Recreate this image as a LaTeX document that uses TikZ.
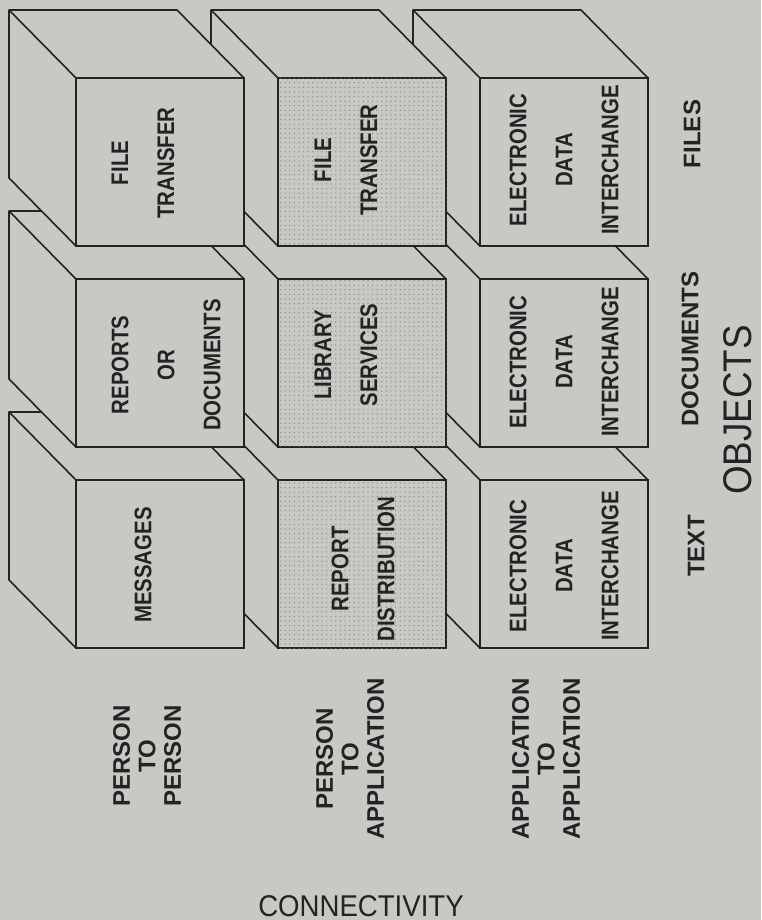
\documentclass[tikz,border=0pt]{standalone}
\usepackage{fontspec}
\setmainfont{Liberation Sans}
\newfontfamily\narrowsans[FakeStretch=0.85]{Liberation Sans}
\newfontfamily\titlesans[FakeStretch=0.92]{Liberation Sans}
\usetikzlibrary{patterns.meta}
\definecolor{paper}{RGB}{200,200,196}
\definecolor{ink}{RGB}{35,35,35}
\tikzset{
  plainface/.style={fill=paper},
  dotface/.style={fill=paper, postaction={pattern={Dots[distance=2.3pt, radius=0.3pt]}, pattern color=ink!60}},
  cubetext/.style={rotate=90, align=center, text=ink, font=\narrowsans\bfseries\fontsize{12}{23}\selectfont},
  rowlabel/.style={rotate=90, align=center, text=ink, font=\bfseries\fontsize{12}{12.75}\selectfont},
  collabel/.style={rotate=90, text=ink, font=\bfseries\fontsize{12}{14}\selectfont},
}
\begin{document}
\begin{tikzpicture}[x=0.5pt, y=-0.5pt, line width=0.8pt, draw=ink]
  \useasboundingbox[fill=paper] (0,0) rectangle (761,920); %
  % cubes, back ones first
  \foreach \r in {2,1,0} {
    \foreach \c/\look in {2/plainface,1/dotface,0/plainface} {
      \pgfmathsetmacro\fx{76+202*\c}
      \pgfmathsetmacro\fy{78+201*\r}
      \draw[fill=paper, line join=round] (\fx-67,\fy-68) -- (\fx+101,\fy-68) --
        (\fx+168,\fy) -- (\fx+168,\fy+168) -- (\fx,\fy+168) --
        (\fx-67,\fy+100) -- cycle; %
      \draw (\fx-67,\fy-68) -- (\fx,\fy); %
      \draw[\look] (\fx,\fy) rectangle (\fx+168,\fy+168); %
    }
  }
  % texts on the front faces
  \node[cubetext] (ftA) at (143,163) {FILE\\TRANSFER};
  \node[cubetext] (ftB) at (346,160) {FILE\\TRANSFER};
  \node[cubetext] (ediA) at (564,160) {ELECTRONIC\\DATA\\INTERCHANGE};
  \node[cubetext] (rod) at (166,365) {REPORTS\\OR\\DOCUMENTS};
  \node[cubetext] (lib) at (346,355) {LIBRARY\\SERVICES};
  \node[cubetext] (ediB) at (564,362) {ELECTRONIC\\DATA\\INTERCHANGE};
  \node[cubetext] (msg) at (143,565) {MESSAGES};
  \node[cubetext] (rdist) at (363,569) {REPORT\\DISTRIBUTION};
  \node[cubetext] (ediC) at (564,566) {ELECTRONIC\\DATA\\INTERCHANGE};
  % axis labels
  \node[rowlabel] (ptp) at (147,756) {PERSON\\TO\\PERSON};
  \node[rowlabel] (pta) at (350,759) {PERSON\\TO\\APPLICATION};
  \node[rowlabel] (ata) at (546,759) {APPLICATION\\TO\\APPLICATION};
  \node[collabel] (files) at (692,134) {FILES};
  \node[collabel] (docs) at (690,349) {DOCUMENTS};
  \node[collabel] (txt) at (696,546) {TEXT};
  \node[rotate=90, text=ink, font=\titlesans\fontsize{20}{24}\selectfont] (obj) at (738,410) {OBJECTS};
  \node[text=ink, font=\titlesans\fontsize{15}{18}\selectfont] (conn) at (361,906) {CONNECTIVITY};
\end{tikzpicture}
\end{document}
